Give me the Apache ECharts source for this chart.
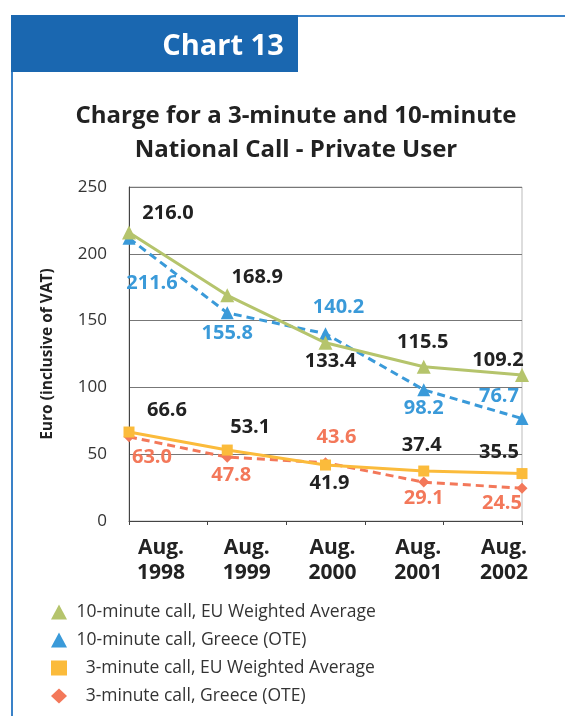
<!DOCTYPE html>
<html>
<head>
<meta charset="utf-8">
<script src="https://cdn.jsdelivr.net/npm/echarts@6/dist/echarts.min.js"></script>
<style>
  html, body { margin: 0; padding: 0; background: #fff; }
  #main { width: 565px; height: 716px; }
</style>
</head>
<body>
<div id="main"></div>
<script>
// data
const categories = ['Aug. 1998', 'Aug. 1999', 'Aug. 2000', 'Aug. 2001', 'Aug. 2002'];
const eu10 = [216.0, 168.9, 133.4, 115.5, 109.2];
const gr10 = [211.6, 155.8, 140.2, 98.2, 76.7];
const eu3 = [66.6, 53.1, 41.9, 37.4, 35.5];
const gr3 = [63.0, 47.8, 43.6, 29.1, 24.5];
const names = [
  '10-minute call, EU Weighted Average',
  '10-minute call, Greece (OTE)',
  '3-minute call, EU Weighted Average',
  '3-minute call, Greece (OTE)'
];

// label offsets from each point (px)
const offEu10 = [[39, -19], [30, -18], [5, 19], [-1, -24], [-24, -15]];
const offGr10 = [[23, 45], [0, 20], [13, -26], [0, 18], [-23, -22]];
const offEu3 = [[38, -22], [23, -23], [4, 18], [-2, -26], [-23, -21]];
const offGr3 = [[23, 20], [4, 18], [11, -25], [0, 16], [-20, 15]];

const GREEN = '#b5c46c', BLUE = '#3a9ad9', YELLOW = '#fbbb3b', SALMON = '#f3785a';
const FONT = 'Open Sans';

function pts(vals, offs, color) {
  return vals.map((v, i) => ({
    value: v,
    label: { offset: offs[i], color: color }
  }));
}

function lineSeries(name, vals, offs, color, labelColor, symbol, size, dashed, z) {
  return {
    name: name,
    type: 'line',
    xAxisIndex: 0,
    yAxisIndex: 0,
    data: pts(vals, offs, labelColor),
    symbol: symbol,
    symbolSize: size,
    z: z,
    lineStyle: { color: color, width: 3, type: dashed ? [8, 5] : 'solid' },
    itemStyle: { color: color },
    label: {
      show: true,
      position: 'inside',
      fontFamily: FONT,
      fontWeight: 'bold',
      fontSize: 20,
      formatter: p => p.value.toFixed(1)
    },
    animation: false
  };
}

var chart = echarts.init(document.getElementById('main'));
var option = {
  animation: false,
  title: [
    {
      text: 'Chart 13',
      left: 218, top: 27, textAlign: 'center',
      textStyle: { color: '#fff', fontFamily: FONT, fontWeight: 'bold', fontSize: 29 }
    },
    {
      text: 'Charge for a 3-minute and 10-minute\nNational Call - Private User',
      left: 291, top: 94, textAlign: 'center',
      textStyle: { color: '#222', fontFamily: FONT, fontWeight: 'bold', fontSize: 24, lineHeight: 34 }
    }
  ],
  graphic: [
    { type: 'rect', shape: { x: 11, y: 15, width: 287, height: 57 }, style: { fill: '#1a67b0' }, z: -1 },
    { type: 'rect', shape: { x: 11, y: 15, width: 554, height: 2 }, style: { fill: '#3a82c8' }, z: -2 },
    { type: 'rect', shape: { x: 11, y: 15, width: 2, height: 701 }, style: { fill: '#3a82c8' }, z: -2 }
  ],
  grid: [
    { left: 129, right: 43, top: 187, bottom: 195, show: true, borderColor: '#bbb', borderWidth: 1 },
    { left: 161, right: 61, top: 187, bottom: 195 }
  ],
  xAxis: [
    { // data axis
      type: 'category', gridIndex: 0, data: categories, boundaryGap: false,
      axisLine: { show: true, lineStyle: { color: '#444', width: 1 } },
      axisTick: { show: false }, axisLabel: { show: false }, splitLine: { show: false }
    },
    { // tick marks
      type: 'category', gridIndex: 0, data: categories, boundaryGap: true, position: 'bottom',
      axisLine: { show: false },
      axisTick: { show: true, length: 4, lineStyle: { color: '#444' } },
      axisLabel: { show: false }, splitLine: { show: false }
    },
    { // labels
      type: 'category', gridIndex: 1, data: categories, boundaryGap: false,
      axisLine: { show: false }, axisTick: { show: false },
      axisLabel: {
        show: true, interval: 0, margin: 15,
        fontFamily: FONT, fontWeight: 'bold', fontSize: 21, color: '#222', lineHeight: 25,
        formatter: v => v.replace(' ', '\n')
      }
    }
  ],
  yAxis: [
    {
      type: 'value', gridIndex: 0, min: 0, max: 250, interval: 50,
      name: 'Euro (inclusive of VAT)', nameLocation: 'middle', nameRotate: 90, nameGap: 73,
      nameTextStyle: { fontFamily: FONT, fontWeight: 'bold', fontSize: 15.5, color: '#222' },
      axisLine: { show: true, lineStyle: { color: '#444', width: 1 } },
      axisTick: { show: false },
      axisLabel: { margin: 22, fontFamily: FONT, fontSize: 17, color: '#333' },
      splitLine: { show: true, lineStyle: { color: '#777', width: 1 } }
    },
    { type: 'value', gridIndex: 1, min: 0, max: 250, show: false }
  ],
  legend: {
    orient: 'vertical',
    left: 46, top: 598,
    itemWidth: 16, itemHeight: 15, itemGap: 10,
    textStyle: { fontFamily: FONT, fontSize: 17.5, color: '#333', lineHeight: 16 },
    formatter: n => (n.charAt(0) === '3' ? '   ' : ' ') + n,
    data: [
      { name: names[0], icon: 'triangle' },
      { name: names[1], icon: 'triangle' },
      { name: names[2], icon: 'rect' },
      { name: names[3], icon: 'diamond' }
    ]
  },
  series: [
    lineSeries(names[1], gr10, offGr10, BLUE, BLUE, 'triangle', 13, true, 3),
    lineSeries(names[0], eu10, offEu10, GREEN, '#222', 'triangle', 14, false, 4),
    lineSeries(names[3], gr3, offGr3, SALMON, SALMON, 'diamond', 11, true, 3),
    lineSeries(names[2], eu3, offEu3, YELLOW, '#222', 'rect', 11, false, 4)
  ]
};
chart.setOption(option);
</script>
</body>
</html>
